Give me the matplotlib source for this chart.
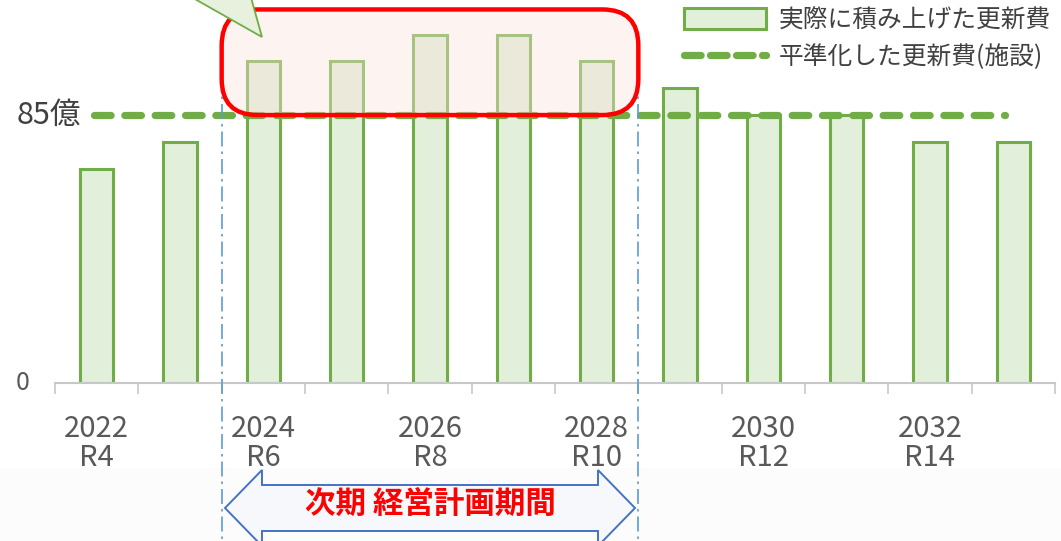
import matplotlib
matplotlib.use("Agg")
import matplotlib.pyplot as plt
from matplotlib.patches import Patch, Polygon, FancyBboxPatch, Rectangle
from matplotlib.lines import Line2D
from matplotlib.transforms import IdentityTransform

plt.rcParams['font.family'] = ['Noto Sans CJK JP', 'DejaVu Sans']

# data
years = [2022, 2023, 2024, 2025, 2026, 2027, 2028, 2029, 2030, 2031, 2032, 2033]
reiwa = ["R4", "R5", "R6", "R7", "R8", "R9", "R10", "R11", "R12", "R13", "R14", "R15"]
costs = [68, 76.5, 102, 102, 110.5, 110.5, 102, 93.5, 85, 85, 76.5, 76.5]
level = 85
plan_start, plan_end = 2024, 2028

GREEN = "#70ad47"
GREEN_FILL = "#e2efda"
GRAY = "#595959"
W, H = 1061, 541


def px(x, y):
    # image pixel (top-left origin) -> display coords
    return (x, H - y)


fig = plt.figure(figsize=(W / 100, H / 100), dpi=100)
# faint band under the axis labels
fig.add_artist(Rectangle(px(0, H), W, H - 468, transform=IdentityTransform(),
                         facecolor="#fcfcfc", edgecolor="none", zorder=0))

ax = fig.add_axes([55 / W, 1 - 383 / H, 1000 / W, 383 / H])
ax.patch.set_alpha(0)
x = list(range(len(years)))
ax.set_xlim(-0.5, len(years) - 0.5)
ax.set_ylim(0, 121.5)

ax.bar(x, costs, width=0.4, color=GREEN_FILL, edgecolor=GREEN, linewidth=2.2, zorder=2)
ax.plot([-0.03, len(years) - 1.1], [level, level], color=GREEN, lw=5.2,
        ls=(0, (2.3, 1.9)), dash_capstyle="round", zorder=3)

# next plan period guides
i0 = years.index(plan_start) - 0.5
i1 = years.index(plan_end) + 0.5
for xv in (i0, i1):
    ax.plot([xv, xv], [106, -55], color="#5b9bd5", lw=1.2, ls=(0, (9, 3, 1.5, 3)),
            clip_on=False, zorder=4)

# axes styling
for s in ("top", "right", "left"):
    ax.spines[s].set_visible(False)
ax.spines["bottom"].set_color("#c8c8c8")
ax.spines["bottom"].set_linewidth(1.5)
ax.set_yticks([])
ax.set_xticks([i - 0.5 for i in range(len(years) + 1)])
ax.set_xticklabels([])
ax.tick_params(axis="x", which="major", length=8, color="#c8c8c8", width=1.2)
ax.set_xticks(x, minor=True)
ax.set_xticklabels([f"{y}\n{r}" if k % 2 == 0 else "" for k, (y, r) in enumerate(zip(years, reiwa))],
                   minor=True, fontsize=21, color=GRAY, linespacing=0.98)
ax.tick_params(axis="x", which="minor", length=0, pad=22)

ax.text(-0.8, 0, "0", ha="right", va="center", fontsize=18, color=GRAY, clip_on=False)
ax.text(-0.19, level, "85億", ha="right", va="center", fontsize=22, color="#404040", clip_on=False)

fig.canvas.draw()

# red rounded box over the peak years
bx0, by0 = ax.transData.transform((i0, level))
bx1, by1 = ax.transData.transform((i1, 118.5))
box = FancyBboxPatch((bx0, by0), bx1 - bx0, by1 - by0, boxstyle="round,pad=0,rounding_size=36",
                     transform=IdentityTransform(), facecolor="#fbe3dc", alpha=0.4,
                     edgecolor="none", zorder=5)
fig.add_artist(box)
box_edge = FancyBboxPatch((bx0, by0), bx1 - bx0, by1 - by0, boxstyle="round,pad=0,rounding_size=36",
                          transform=IdentityTransform(), facecolor="none",
                          edgecolor="#ff0000", lw=3.2, zorder=6)
fig.add_artist(box_edge)

# callout tail coming from above
tail = Polygon([px(186, -6), px(262, 37), px(250, -6)], closed=True, transform=IdentityTransform(),
               facecolor="#e8f0de", edgecolor=GREEN, lw=1.3, zorder=7)
fig.add_artist(tail)

# double arrow for plan period
arrow_pts = [(225, 508), (262, 470), (262, 485), (598, 485), (598, 470), (635, 508),
             (598, 546), (598, 531), (262, 531), (262, 546)]
arrow = Polygon([px(a, b) for a, b in arrow_pts], closed=True, transform=IdentityTransform(),
                facecolor="#f6f8fb", edgecolor="#4472c4", lw=1.4, zorder=7)
fig.add_artist(arrow)
fig.text(430 / W, 1 - 505 / H, "次期 経営計画期間", ha="center", va="center",
         fontsize=22, fontweight="bold", color="#ff0000", zorder=8)

# legend
handles = [Patch(facecolor=GREEN_FILL, edgecolor=GREEN, lw=2.2),
           Line2D([0], [0], color=GREEN, lw=5.2, ls=(0, (2.3, 1.3)), dash_capstyle="round")]
labels = ["実際に積み上げた更新費", "平準化した更新費(施設)"]
fig.legend(handles, labels, loc="upper left", bbox_to_anchor=(684 / W, 1 - 7 / H),
           frameon=False, fontsize=17.8, handlelength=3.3, handleheight=0.88,
           handletextpad=0.55, labelspacing=0.46, borderpad=0, borderaxespad=0,
           labelcolor="#404040")

fig.savefig("out.png", dpi=100)
